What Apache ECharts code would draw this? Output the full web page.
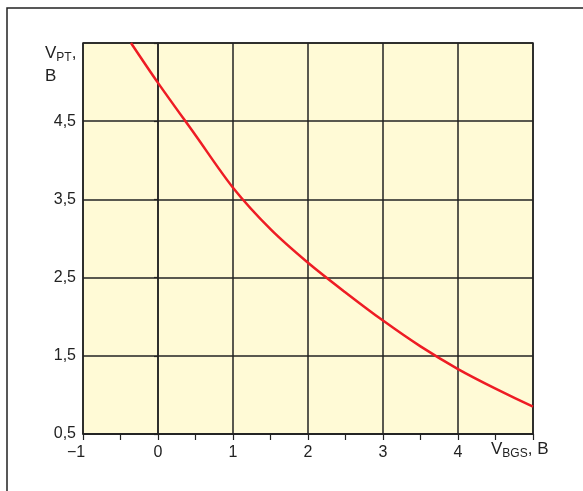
<!DOCTYPE html>
<html>
<head>
<meta charset="utf-8">
<script src="https://cdn.jsdelivr.net/npm/echarts@6/dist/echarts.min.js"></script>
<style>html,body{margin:0;padding:0;background:#fff;}#c{width:583px;height:491px;}</style>
</head>
<body>
<div id="c"></div>
<script>
// Data
var vbgs = [-0.36, 0, 0.5, 1, 1.5, 2, 2.5, 3, 3.5, 4, 4.5, 5];
var vpt  = [5.5, 4.99, 4.32, 3.65, 3.12, 2.69, 2.31, 1.95, 1.62, 1.33, 1.08, 0.85];
var xTickLabels = ['\u22121', '0', '1', '2', '3', '4'];
var yTickLabels = ['0,5', '1,5', '2,5', '3,5', '4,5'];

var pts = vbgs.map(function (x, i) { return [x, vpt[i]]; });
var chart = echarts.init(document.getElementById('c'), null, { renderer: 'canvas' });
var FONT = 'Liberation Sans';
chart.setOption({
  animation: false,
  backgroundColor: '#ffffff',
  textStyle: { fontFamily: FONT },
  grid: {
    left: 83, right: 50, top: 43, bottom: 57,
    show: true, backgroundColor: '#fffad6', borderColor: '#222', borderWidth: 1.5
  },
  xAxis: {
    type: 'value', min: -1, max: 5, interval: 1,
    axisLine: { show: true, lineStyle: { color: '#222', width: 1.5 } },
    axisTick: { show: true, length: 6, lineStyle: { color: '#222', width: 1.2 } },
    minorTick: { show: true, splitNumber: 2, length: 6, lineStyle: { color: '#222', width: 1.2 } },
    splitLine: { show: true, lineStyle: { color: '#222', width: 1.5 } },
    axisLabel: {
      color: '#222', fontSize: 16, fontFamily: FONT, margin: 11,
      rich: { m: { fontSize: 16, fontFamily: FONT, color: '#222', padding: [0, 14, 0, 0] } },
      formatter: function (v) {
        var i = Math.round(v + 1);
        if (i === 0) return '{m|' + xTickLabels[0] + '}';
        return (i >= 0 && i < xTickLabels.length) ? xTickLabels[i] : '';
      }
    }
  },
  yAxis: {
    type: 'value', min: 0.5, max: 5.5, interval: 1,
    axisLine: { show: true, lineStyle: { color: '#222', width: 1.5 } },
    axisTick: { show: true, length: 4, lineStyle: { color: '#222', width: 1.2 } },
    splitLine: { show: true, lineStyle: { color: '#222', width: 1.5 } },
    axisLabel: {
      color: '#222', fontSize: 16, fontFamily: FONT, margin: 7,
      formatter: function (v) { var i = Math.round(v - 0.5); return (i >= 0 && i < yTickLabels.length) ? yTickLabels[i] : ''; }
    }
  },
  series: [{
    type: 'line', data: pts, showSymbol: false, smooth: 0.3,
    lineStyle: { color: '#ee1c24', width: 2.5 }, z: 5
  }],
  graphic: [
    { type: 'rect', shape: { x: 7, y: 8, width: 620, height: 520 }, style: { fill: null, stroke: '#222', lineWidth: 1.5 }, silent: true },
    { type: 'text', left: 45, top: 45, style: {
        text: '{v|V}{s|PT}{v|,}\n{v|B}', fill: '#222',
        rich: { v: { fontSize: 17, fontFamily: FONT, fill: '#222', lineHeight: 23 },
                s: { fontSize: 12, fontFamily: FONT, fill: '#222', padding: [9, 0, 0, 0] } } } },
    { type: 'text', left: 491, top: 441, style: {
        text: '{v|V}{s|BGS}{v|, B}', fill: '#222',
        rich: { v: { fontSize: 17, fontFamily: FONT, fill: '#222' },
                s: { fontSize: 12, fontFamily: FONT, fill: '#222', padding: [9, 0, 0, 0] } } } }
  ]
});
</script>
</body>
</html>
